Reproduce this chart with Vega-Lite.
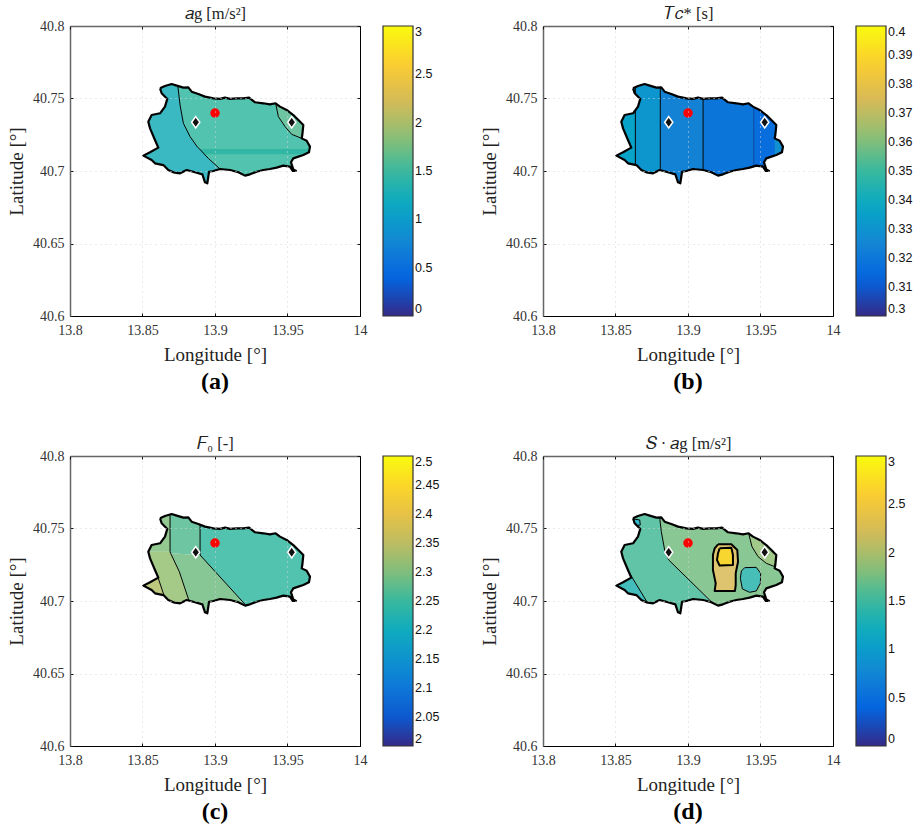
{"$schema":"https://vega.github.io/schema/vega-lite/v6.json","padding":{"left":7,"top":5,"right":0,"bottom":0},"background":"white","columns":2,"bounds":"flush","spacing":{"column":183,"row":140},"resolve":{"scale":{"fill":"independent"},"legend":{"fill":"independent"}},"datasets":{
"geo":[
{"part":"f","i":-5,"lon":13.8,"lat":40.8},{"part":"f","i":-4,"lon":13.8,"lat":40.6},{"part":"f","i":-3,"lon":14,"lat":40.6},{"part":"f","i":-2,"lon":14,"lat":40.8},{"part":"f","i":-1,"lon":13.8,"lat":40.8},
{"part":"o","i":1,"lon":13.8621,"lat":40.757},{"part":"o","i":2,"lon":13.8655,"lat":40.7586},{"part":"o","i":3,"lon":13.8701,"lat":40.76},{"part":"o","i":4,"lon":13.8736,"lat":40.7589},{"part":"o","i":5,"lon":13.8782,"lat":40.7575},{"part":"o","i":6,"lon":13.8816,"lat":40.7577},{"part":"o","i":7,"lon":13.8839,"lat":40.7547},{"part":"o","i":8,"lon":13.8885,"lat":40.7531},{"part":"o","i":9,"lon":13.8931,"lat":40.7513},{"part":"o","i":10,"lon":13.8989,"lat":40.7501},{"part":"o","i":11,"lon":13.9035,"lat":40.7497},{"part":"o","i":12,"lon":13.9069,"lat":40.7506},{"part":"o","i":13,"lon":13.9104,"lat":40.7497},{"part":"o","i":14,"lon":13.9149,"lat":40.7501},{"part":"o","i":15,"lon":13.9195,"lat":40.7501},{"part":"o","i":16,"lon":13.9235,"lat":40.7506},{"part":"o","i":17,"lon":13.9276,"lat":40.7474},{"part":"o","i":18,"lon":13.9333,"lat":40.7467},{"part":"o","i":19,"lon":13.9379,"lat":40.746},{"part":"o","i":20,"lon":13.9418,"lat":40.7467},{"part":"o","i":21,"lon":13.9448,"lat":40.7444},{"part":"o","i":22,"lon":13.9494,"lat":40.7421},{"part":"o","i":23,"lon":13.954,"lat":40.7386},{"part":"o","i":24,"lon":13.9575,"lat":40.7352},{"part":"o","i":25,"lon":13.9609,"lat":40.7317},{"part":"o","i":26,"lon":13.9602,"lat":40.7248},{"part":"o","i":27,"lon":13.9598,"lat":40.7225},{"part":"o","i":28,"lon":13.9632,"lat":40.7209},{"part":"o","i":29,"lon":13.9655,"lat":40.7168},{"part":"o","i":30,"lon":13.9648,"lat":40.7129},{"part":"o","i":31,"lon":13.9609,"lat":40.711},{"part":"o","i":32,"lon":13.9575,"lat":40.7099},{"part":"o","i":33,"lon":13.954,"lat":40.7087},{"part":"o","i":34,"lon":13.9524,"lat":40.706},{"part":"o","i":35,"lon":13.954,"lat":40.7011},{"part":"o","i":36,"lon":13.9559,"lat":40.7},{"part":"o","i":37,"lon":13.9536,"lat":40.7},{"part":"o","i":38,"lon":13.9517,"lat":40.703},{"part":"o","i":39,"lon":13.9471,"lat":40.7037},{"part":"o","i":40,"lon":13.9425,"lat":40.7023},{"part":"o","i":41,"lon":13.9379,"lat":40.7014},{"part":"o","i":42,"lon":13.9333,"lat":40.7007},{"part":"o","i":43,"lon":13.9287,"lat":40.6995},{"part":"o","i":44,"lon":13.9241,"lat":40.6977},{"part":"o","i":45,"lon":13.9207,"lat":40.6968},{"part":"o","i":46,"lon":13.9161,"lat":40.6991},{"part":"o","i":47,"lon":13.9104,"lat":40.7007},{"part":"o","i":48,"lon":13.9035,"lat":40.7014},{"part":"o","i":49,"lon":13.8989,"lat":40.7},{"part":"o","i":50,"lon":13.8959,"lat":40.6995},{"part":"o","i":51,"lon":13.8947,"lat":40.6915},{"part":"o","i":52,"lon":13.8931,"lat":40.6922},{"part":"o","i":53,"lon":13.8913,"lat":40.6977},{"part":"o","i":54,"lon":13.8862,"lat":40.6991},{"part":"o","i":55,"lon":13.8805,"lat":40.7007},{"part":"o","i":56,"lon":13.8759,"lat":40.6984},{"part":"o","i":57,"lon":13.8713,"lat":40.6991},{"part":"o","i":58,"lon":13.8678,"lat":40.7007},{"part":"o","i":59,"lon":13.8644,"lat":40.7041},{"part":"o","i":60,"lon":13.8586,"lat":40.7053},{"part":"o","i":61,"lon":13.8563,"lat":40.7076},{"part":"o","i":62,"lon":13.8506,"lat":40.7106},{"part":"o","i":63,"lon":13.8552,"lat":40.7129},{"part":"o","i":64,"lon":13.8609,"lat":40.7161},{"part":"o","i":65,"lon":13.8586,"lat":40.7214},{"part":"o","i":66,"lon":13.8552,"lat":40.7294},{"part":"o","i":67,"lon":13.854,"lat":40.734},{"part":"o","i":68,"lon":13.8563,"lat":40.7386},{"part":"o","i":69,"lon":13.8621,"lat":40.7398},{"part":"o","i":70,"lon":13.8655,"lat":40.7444},{"part":"o","i":71,"lon":13.8671,"lat":40.7497},{"part":"o","i":72,"lon":13.8632,"lat":40.7536},{"part":"o","i":73,"lon":13.8621,"lat":40.757},
{"part":"f","i":74,"lon":13.8,"lat":40.8}],
"zones":[
{"p":"a","z":"left","value":1.26,"i":1,"lon":13.83,"lat":40.775},{"p":"a","z":"left","value":1.26,"i":2,"lon":13.874,"lat":40.775},{"p":"a","z":"left","value":1.26,"i":3,"lon":13.874,"lat":40.7616},{"p":"a","z":"left","value":1.26,"i":4,"lon":13.8759,"lat":40.7455},{"p":"a","z":"left","value":1.26,"i":5,"lon":13.8782,"lat":40.7329},{"p":"a","z":"left","value":1.26,"i":6,"lon":13.8828,"lat":40.7237},{"p":"a","z":"left","value":1.26,"i":7,"lon":13.8874,"lat":40.7172},{"p":"a","z":"left","value":1.26,"i":8,"lon":13.8954,"lat":40.7087},{"p":"a","z":"left","value":1.26,"i":9,"lon":13.9035,"lat":40.7014},{"p":"a","z":"left","value":1.26,"i":10,"lon":13.908,"lat":40.6961},{"p":"a","z":"left","value":1.26,"i":11,"lon":13.908,"lat":40.68},{"p":"a","z":"left","value":1.26,"i":12,"lon":13.83,"lat":40.68},
{"p":"a","z":"mid","value":1.47,"i":1,"lon":13.874,"lat":40.775},{"p":"a","z":"mid","value":1.47,"i":2,"lon":13.874,"lat":40.7616},{"p":"a","z":"mid","value":1.47,"i":3,"lon":13.8759,"lat":40.7455},{"p":"a","z":"mid","value":1.47,"i":4,"lon":13.8782,"lat":40.7329},{"p":"a","z":"mid","value":1.47,"i":5,"lon":13.8828,"lat":40.7237},{"p":"a","z":"mid","value":1.47,"i":6,"lon":13.8874,"lat":40.7172},{"p":"a","z":"mid","value":1.47,"i":7,"lon":13.8954,"lat":40.7087},{"p":"a","z":"mid","value":1.47,"i":8,"lon":13.9035,"lat":40.7014},{"p":"a","z":"mid","value":1.47,"i":9,"lon":13.908,"lat":40.6961},{"p":"a","z":"mid","value":1.47,"i":10,"lon":13.908,"lat":40.68},{"p":"a","z":"mid","value":1.47,"i":11,"lon":13.98,"lat":40.68},{"p":"a","z":"mid","value":1.47,"i":12,"lon":13.98,"lat":40.7202},{"p":"a","z":"mid","value":1.47,"i":13,"lon":13.9701,"lat":40.7202},{"p":"a","z":"mid","value":1.47,"i":14,"lon":13.9598,"lat":40.7225},{"p":"a","z":"mid","value":1.47,"i":15,"lon":13.9529,"lat":40.7253},{"p":"a","z":"mid","value":1.47,"i":16,"lon":13.9483,"lat":40.7306},{"p":"a","z":"mid","value":1.47,"i":17,"lon":13.9437,"lat":40.7375},{"p":"a","z":"mid","value":1.47,"i":18,"lon":13.9418,"lat":40.7467},{"p":"a","z":"mid","value":1.47,"i":19,"lon":13.9411,"lat":40.7501},{"p":"a","z":"mid","value":1.47,"i":20,"lon":13.9411,"lat":40.775},
{"p":"a","z":"right","value":1.62,"i":1,"lon":13.9411,"lat":40.775},{"p":"a","z":"right","value":1.62,"i":2,"lon":13.9411,"lat":40.7501},{"p":"a","z":"right","value":1.62,"i":3,"lon":13.9418,"lat":40.7467},{"p":"a","z":"right","value":1.62,"i":4,"lon":13.9437,"lat":40.7375},{"p":"a","z":"right","value":1.62,"i":5,"lon":13.9483,"lat":40.7306},{"p":"a","z":"right","value":1.62,"i":6,"lon":13.9529,"lat":40.7253},{"p":"a","z":"right","value":1.62,"i":7,"lon":13.9598,"lat":40.7225},{"p":"a","z":"right","value":1.62,"i":8,"lon":13.9701,"lat":40.7202},{"p":"a","z":"right","value":1.62,"i":9,"lon":13.98,"lat":40.7202},{"p":"a","z":"right","value":1.62,"i":10,"lon":13.98,"lat":40.775},
{"p":"band","z":"band","value":1.45,"i":1,"lon":13.8892,"lat":40.7152},{"p":"band","z":"band","value":1.45,"i":2,"lon":13.977,"lat":40.7152},{"p":"band","z":"band","value":1.45,"i":3,"lon":13.977,"lat":40.7115},{"p":"band","z":"band","value":1.45,"i":4,"lon":13.8929,"lat":40.7115},
{"p":"b","z":"z1","value":0.336,"i":1,"lon":13.83,"lat":40.775},{"p":"b","z":"z1","value":0.336,"i":2,"lon":13.8637,"lat":40.775},{"p":"b","z":"z1","value":0.336,"i":3,"lon":13.8637,"lat":40.68},{"p":"b","z":"z1","value":0.336,"i":4,"lon":13.83,"lat":40.68},
{"p":"b","z":"z2","value":0.331,"i":1,"lon":13.8637,"lat":40.775},{"p":"b","z":"z2","value":0.331,"i":2,"lon":13.8809,"lat":40.775},{"p":"b","z":"z2","value":0.331,"i":3,"lon":13.8809,"lat":40.68},{"p":"b","z":"z2","value":0.331,"i":4,"lon":13.8637,"lat":40.68},
{"p":"b","z":"z3","value":0.324,"i":1,"lon":13.8809,"lat":40.775},{"p":"b","z":"z3","value":0.324,"i":2,"lon":13.9104,"lat":40.775},{"p":"b","z":"z3","value":0.324,"i":3,"lon":13.9104,"lat":40.68},{"p":"b","z":"z3","value":0.324,"i":4,"lon":13.8809,"lat":40.68},
{"p":"b","z":"z4","value":0.319,"i":1,"lon":13.9104,"lat":40.775},{"p":"b","z":"z4","value":0.319,"i":2,"lon":13.9453,"lat":40.775},{"p":"b","z":"z4","value":0.319,"i":3,"lon":13.9453,"lat":40.68},{"p":"b","z":"z4","value":0.319,"i":4,"lon":13.9104,"lat":40.68},
{"p":"b","z":"z5","value":0.316,"i":1,"lon":13.9453,"lat":40.775},{"p":"b","z":"z5","value":0.316,"i":2,"lon":13.9605,"lat":40.775},{"p":"b","z":"z5","value":0.316,"i":3,"lon":13.9605,"lat":40.68},{"p":"b","z":"z5","value":0.316,"i":4,"lon":13.9453,"lat":40.68},
{"p":"b","z":"z6","value":0.329,"i":1,"lon":13.9598,"lat":40.775},{"p":"b","z":"z6","value":0.329,"i":2,"lon":13.98,"lat":40.775},{"p":"b","z":"z6","value":0.329,"i":3,"lon":13.98,"lat":40.68},{"p":"b","z":"z6","value":0.329,"i":4,"lon":13.9598,"lat":40.68},
{"p":"c","z":"z1","value":2.3,"i":1,"lon":13.83,"lat":40.775},{"p":"c","z":"z1","value":2.3,"i":2,"lon":13.869,"lat":40.775},{"p":"c","z":"z1","value":2.3,"i":3,"lon":13.869,"lat":40.734},{"p":"c","z":"z1","value":2.3,"i":4,"lon":13.83,"lat":40.734},
{"p":"c","z":"z2","value":2.27,"i":1,"lon":13.869,"lat":40.775},{"p":"c","z":"z2","value":2.27,"i":2,"lon":13.8897,"lat":40.775},{"p":"c","z":"z2","value":2.27,"i":3,"lon":13.8897,"lat":40.7317},{"p":"c","z":"z2","value":2.27,"i":4,"lon":13.8694,"lat":40.7329},{"p":"c","z":"z2","value":2.27,"i":5,"lon":13.869,"lat":40.734},
{"p":"c","z":"z3","value":2.29,"i":1,"lon":13.8694,"lat":40.7329},{"p":"c","z":"z3","value":2.29,"i":2,"lon":13.8897,"lat":40.7317},{"p":"c","z":"z3","value":2.29,"i":3,"lon":13.9207,"lat":40.6977},{"p":"c","z":"z3","value":2.29,"i":4,"lon":13.9241,"lat":40.6938},{"p":"c","z":"z3","value":2.29,"i":5,"lon":13.9241,"lat":40.68},{"p":"c","z":"z3","value":2.29,"i":6,"lon":13.8839,"lat":40.68},{"p":"c","z":"z3","value":2.29,"i":7,"lon":13.8839,"lat":40.6949},{"p":"c","z":"z3","value":2.29,"i":8,"lon":13.8823,"lat":40.6995},{"p":"c","z":"z3","value":2.29,"i":9,"lon":13.8754,"lat":40.7202},
{"p":"c","z":"z4","value":2.315,"i":1,"lon":13.83,"lat":40.734},{"p":"c","z":"z4","value":2.315,"i":2,"lon":13.869,"lat":40.734},{"p":"c","z":"z4","value":2.315,"i":3,"lon":13.8694,"lat":40.7329},{"p":"c","z":"z4","value":2.315,"i":4,"lon":13.8754,"lat":40.7202},{"p":"c","z":"z4","value":2.315,"i":5,"lon":13.8823,"lat":40.6995},{"p":"c","z":"z4","value":2.315,"i":6,"lon":13.8839,"lat":40.6949},{"p":"c","z":"z4","value":2.315,"i":7,"lon":13.8839,"lat":40.68},{"p":"c","z":"z4","value":2.315,"i":8,"lon":13.8667,"lat":40.68},{"p":"c","z":"z4","value":2.315,"i":9,"lon":13.8667,"lat":40.6972},{"p":"c","z":"z4","value":2.315,"i":10,"lon":13.8655,"lat":40.7019},{"p":"c","z":"z4","value":2.315,"i":11,"lon":13.8609,"lat":40.7156},{"p":"c","z":"z4","value":2.315,"i":12,"lon":13.8598,"lat":40.7191},{"p":"c","z":"z4","value":2.315,"i":13,"lon":13.83,"lat":40.7191},
{"p":"c","z":"z5","value":2.34,"i":1,"lon":13.83,"lat":40.7191},{"p":"c","z":"z5","value":2.34,"i":2,"lon":13.8598,"lat":40.7191},{"p":"c","z":"z5","value":2.34,"i":3,"lon":13.8609,"lat":40.7156},{"p":"c","z":"z5","value":2.34,"i":4,"lon":13.8655,"lat":40.7019},{"p":"c","z":"z5","value":2.34,"i":5,"lon":13.8667,"lat":40.6972},{"p":"c","z":"z5","value":2.34,"i":6,"lon":13.8667,"lat":40.68},{"p":"c","z":"z5","value":2.34,"i":7,"lon":13.83,"lat":40.68},
{"p":"c","z":"z6","value":2.245,"i":1,"lon":13.8897,"lat":40.775},{"p":"c","z":"z6","value":2.245,"i":2,"lon":13.98,"lat":40.775},{"p":"c","z":"z6","value":2.245,"i":3,"lon":13.98,"lat":40.68},{"p":"c","z":"z6","value":2.245,"i":4,"lon":13.9241,"lat":40.68},{"p":"c","z":"z6","value":2.245,"i":5,"lon":13.9241,"lat":40.6938},{"p":"c","z":"z6","value":2.245,"i":6,"lon":13.9207,"lat":40.6977},{"p":"c","z":"z6","value":2.245,"i":7,"lon":13.8897,"lat":40.7317},
{"p":"d","z":"left","value":1.56,"i":1,"lon":13.83,"lat":40.775},{"p":"d","z":"left","value":1.56,"i":2,"lon":13.88,"lat":40.775},{"p":"d","z":"left","value":1.56,"i":3,"lon":13.88,"lat":40.7616},{"p":"d","z":"left","value":1.56,"i":4,"lon":13.8816,"lat":40.7478},{"p":"d","z":"left","value":1.56,"i":5,"lon":13.8839,"lat":40.7352},{"p":"d","z":"left","value":1.56,"i":6,"lon":13.8867,"lat":40.7283},{"p":"d","z":"left","value":1.56,"i":7,"lon":13.9172,"lat":40.6984},{"p":"d","z":"left","value":1.56,"i":8,"lon":13.9218,"lat":40.6938},{"p":"d","z":"left","value":1.56,"i":9,"lon":13.9218,"lat":40.68},{"p":"d","z":"left","value":1.56,"i":10,"lon":13.8747,"lat":40.68},{"p":"d","z":"left","value":1.56,"i":11,"lon":13.8747,"lat":40.6943},{"p":"d","z":"left","value":1.56,"i":12,"lon":13.872,"lat":40.6989},{"p":"d","z":"left","value":1.56,"i":13,"lon":13.8621,"lat":40.7152},{"p":"d","z":"left","value":1.56,"i":14,"lon":13.8598,"lat":40.7191},{"p":"d","z":"left","value":1.56,"i":15,"lon":13.83,"lat":40.7191},
{"p":"d","z":"tip","value":1.33,"i":1,"lon":13.83,"lat":40.7191},{"p":"d","z":"tip","value":1.33,"i":2,"lon":13.8598,"lat":40.7191},{"p":"d","z":"tip","value":1.33,"i":3,"lon":13.8621,"lat":40.7152},{"p":"d","z":"tip","value":1.33,"i":4,"lon":13.872,"lat":40.6989},{"p":"d","z":"tip","value":1.33,"i":5,"lon":13.8747,"lat":40.6943},{"p":"d","z":"tip","value":1.33,"i":6,"lon":13.8747,"lat":40.68},{"p":"d","z":"tip","value":1.33,"i":7,"lon":13.83,"lat":40.68},
{"p":"d","z":"mid","value":1.75,"i":1,"lon":13.88,"lat":40.775},{"p":"d","z":"mid","value":1.75,"i":2,"lon":13.9411,"lat":40.775},{"p":"d","z":"mid","value":1.75,"i":3,"lon":13.9411,"lat":40.7501},{"p":"d","z":"mid","value":1.75,"i":4,"lon":13.9418,"lat":40.7467},{"p":"d","z":"mid","value":1.75,"i":5,"lon":13.9441,"lat":40.7375},{"p":"d","z":"mid","value":1.75,"i":6,"lon":13.9483,"lat":40.7306},{"p":"d","z":"mid","value":1.75,"i":7,"lon":13.954,"lat":40.726},{"p":"d","z":"mid","value":1.75,"i":8,"lon":13.9598,"lat":40.7237},{"p":"d","z":"mid","value":1.75,"i":9,"lon":13.9701,"lat":40.7214},{"p":"d","z":"mid","value":1.75,"i":10,"lon":13.98,"lat":40.7214},{"p":"d","z":"mid","value":1.75,"i":11,"lon":13.98,"lat":40.68},{"p":"d","z":"mid","value":1.75,"i":12,"lon":13.9218,"lat":40.68},{"p":"d","z":"mid","value":1.75,"i":13,"lon":13.9218,"lat":40.6938},{"p":"d","z":"mid","value":1.75,"i":14,"lon":13.9172,"lat":40.6984},{"p":"d","z":"mid","value":1.75,"i":15,"lon":13.8867,"lat":40.7283},{"p":"d","z":"mid","value":1.75,"i":16,"lon":13.8839,"lat":40.7352},{"p":"d","z":"mid","value":1.75,"i":17,"lon":13.8816,"lat":40.7478},{"p":"d","z":"mid","value":1.75,"i":18,"lon":13.88,"lat":40.7616},
{"p":"d","z":"right","value":1.87,"i":1,"lon":13.9411,"lat":40.775},{"p":"d","z":"right","value":1.87,"i":2,"lon":13.9411,"lat":40.7501},{"p":"d","z":"right","value":1.87,"i":3,"lon":13.9418,"lat":40.7467},{"p":"d","z":"right","value":1.87,"i":4,"lon":13.9441,"lat":40.7375},{"p":"d","z":"right","value":1.87,"i":5,"lon":13.9483,"lat":40.7306},{"p":"d","z":"right","value":1.87,"i":6,"lon":13.954,"lat":40.726},{"p":"d","z":"right","value":1.87,"i":7,"lon":13.9598,"lat":40.7237},{"p":"d","z":"right","value":1.87,"i":8,"lon":13.9701,"lat":40.7214},{"p":"d","z":"right","value":1.87,"i":9,"lon":13.98,"lat":40.7214},{"p":"d","z":"right","value":1.87,"i":10,"lon":13.98,"lat":40.775}
],
"lines":[
{"p":"a","id":"l1","i":1,"lon":13.874,"lat":40.7616},{"p":"a","id":"l1","i":2,"lon":13.8759,"lat":40.7455},{"p":"a","id":"l1","i":3,"lon":13.8782,"lat":40.7329},{"p":"a","id":"l1","i":4,"lon":13.8828,"lat":40.7237},{"p":"a","id":"l1","i":5,"lon":13.8874,"lat":40.7172},{"p":"a","id":"l1","i":6,"lon":13.8954,"lat":40.7087},{"p":"a","id":"l1","i":7,"lon":13.9035,"lat":40.7014},{"p":"a","id":"l1","i":8,"lon":13.908,"lat":40.6961},
{"p":"a","id":"l2","i":1,"lon":13.9411,"lat":40.7501},{"p":"a","id":"l2","i":2,"lon":13.9418,"lat":40.7467},{"p":"a","id":"l2","i":3,"lon":13.9437,"lat":40.7375},{"p":"a","id":"l2","i":4,"lon":13.9483,"lat":40.7306},{"p":"a","id":"l2","i":5,"lon":13.9529,"lat":40.7253},{"p":"a","id":"l2","i":6,"lon":13.9598,"lat":40.7225},{"p":"a","id":"l2","i":7,"lon":13.9701,"lat":40.7202},
{"p":"b","id":"l1","i":1,"lon":13.8637,"lat":40.775},{"p":"b","id":"l1","i":2,"lon":13.8637,"lat":40.68},
{"p":"b","id":"l2","i":1,"lon":13.8809,"lat":40.775},{"p":"b","id":"l2","i":2,"lon":13.8809,"lat":40.68},
{"p":"b","id":"l3","i":1,"lon":13.9104,"lat":40.775},{"p":"b","id":"l3","i":2,"lon":13.9104,"lat":40.68},
{"p":"b4","id":"l4","i":1,"lon":13.9453,"lat":40.775},{"p":"b4","id":"l4","i":2,"lon":13.9453,"lat":40.68},
{"p":"c","id":"a","i":1,"lon":13.869,"lat":40.7616},{"p":"c","id":"a","i":2,"lon":13.869,"lat":40.734},{"p":"c","id":"a","i":3,"lon":13.8694,"lat":40.7329},{"p":"c","id":"a","i":4,"lon":13.8754,"lat":40.7202},{"p":"c","id":"a","i":5,"lon":13.8823,"lat":40.6995},{"p":"c","id":"a","i":6,"lon":13.8839,"lat":40.6949},
{"p":"c","id":"b","i":1,"lon":13.8897,"lat":40.757},{"p":"c","id":"b","i":2,"lon":13.8897,"lat":40.7317},{"p":"c","id":"b","i":3,"lon":13.9207,"lat":40.6977},{"p":"c","id":"b","i":4,"lon":13.9241,"lat":40.6938},
{"p":"c","id":"c","i":1,"lon":13.8598,"lat":40.7191},{"p":"c","id":"c","i":2,"lon":13.8609,"lat":40.7156},{"p":"c","id":"c","i":3,"lon":13.8655,"lat":40.7019},{"p":"c","id":"c","i":4,"lon":13.8667,"lat":40.6972},
{"p":"d","id":"l1","i":1,"lon":13.88,"lat":40.7616},{"p":"d","id":"l1","i":2,"lon":13.8816,"lat":40.7478},{"p":"d","id":"l1","i":3,"lon":13.8839,"lat":40.7352},{"p":"d","id":"l1","i":4,"lon":13.8867,"lat":40.7283},{"p":"d","id":"l1","i":5,"lon":13.9172,"lat":40.6984},{"p":"d","id":"l1","i":6,"lon":13.9218,"lat":40.6938},
{"p":"d","id":"l2","i":1,"lon":13.8598,"lat":40.7191},{"p":"d","id":"l2","i":2,"lon":13.8621,"lat":40.7152},{"p":"d","id":"l2","i":3,"lon":13.872,"lat":40.6989},{"p":"d","id":"l2","i":4,"lon":13.8747,"lat":40.6943},
{"p":"d","id":"l3","i":1,"lon":13.9411,"lat":40.7501},{"p":"d","id":"l3","i":2,"lon":13.9418,"lat":40.7467},{"p":"d","id":"l3","i":3,"lon":13.9441,"lat":40.7375},{"p":"d","id":"l3","i":4,"lon":13.9483,"lat":40.7306},{"p":"d","id":"l3","i":5,"lon":13.954,"lat":40.726},{"p":"d","id":"l3","i":6,"lon":13.9598,"lat":40.7237},{"p":"d","id":"l3","i":7,"lon":13.9701,"lat":40.7214}
],
"blobs":[
{"id":"tan","k":"thick","value":2.25,"i":1,"lon":13.9207,"lat":40.7391},{"id":"tan","k":"thick","value":2.25,"i":2,"lon":13.9299,"lat":40.7391},{"id":"tan","k":"thick","value":2.25,"i":3,"lon":13.934,"lat":40.7352},{"id":"tan","k":"thick","value":2.25,"i":4,"lon":13.9345,"lat":40.7271},{"id":"tan","k":"thick","value":2.25,"i":5,"lon":13.9329,"lat":40.7191},{"id":"tan","k":"thick","value":2.25,"i":6,"lon":13.9329,"lat":40.711},{"id":"tan","k":"thick","value":2.25,"i":7,"lon":13.9324,"lat":40.7069},{"id":"tan","k":"thick","value":2.25,"i":8,"lon":13.9184,"lat":40.7069},{"id":"tan","k":"thick","value":2.25,"i":9,"lon":13.9191,"lat":40.7122},{"id":"tan","k":"thick","value":2.25,"i":10,"lon":13.9172,"lat":40.7214},{"id":"tan","k":"thick","value":2.25,"i":11,"lon":13.9172,"lat":40.7317},{"id":"tan","k":"thick","value":2.25,"i":12,"lon":13.9184,"lat":40.7363},{"id":"tan","k":"thick","value":2.25,"i":13,"lon":13.9207,"lat":40.7391},
{"id":"yellow","k":"thick","value":2.72,"i":1,"lon":13.9218,"lat":40.7363},{"id":"yellow","k":"thick","value":2.72,"i":2,"lon":13.9299,"lat":40.7368},{"id":"yellow","k":"thick","value":2.72,"i":3,"lon":13.931,"lat":40.7317},{"id":"yellow","k":"thick","value":2.72,"i":4,"lon":13.931,"lat":40.7248},{"id":"yellow","k":"thick","value":2.72,"i":5,"lon":13.9218,"lat":40.7244},{"id":"yellow","k":"thick","value":2.72,"i":6,"lon":13.92,"lat":40.7283},{"id":"yellow","k":"thick","value":2.72,"i":7,"lon":13.9207,"lat":40.7329},{"id":"yellow","k":"thick","value":2.72,"i":8,"lon":13.9218,"lat":40.7363},
{"id":"teal","k":"thin","value":1.38,"i":1,"lon":13.9391,"lat":40.723},{"id":"teal","k":"thin","value":1.38,"i":2,"lon":13.9471,"lat":40.7232},{"id":"teal","k":"thin","value":1.38,"i":3,"lon":13.9501,"lat":40.7191},{"id":"teal","k":"thin","value":1.38,"i":4,"lon":13.9499,"lat":40.7122},{"id":"teal","k":"thin","value":1.38,"i":5,"lon":13.9471,"lat":40.7069},{"id":"teal","k":"thin","value":1.38,"i":6,"lon":13.9425,"lat":40.706},{"id":"teal","k":"thin","value":1.38,"i":7,"lon":13.9375,"lat":40.7083},{"id":"teal","k":"thin","value":1.38,"i":8,"lon":13.9361,"lat":40.7156},{"id":"teal","k":"thin","value":1.38,"i":9,"lon":13.9368,"lat":40.7207},{"id":"teal","k":"thin","value":1.38,"i":10,"lon":13.9391,"lat":40.723},
{"id":"small","k":"thin","value":1.2,"i":1,"lon":13.8625,"lat":40.7565},{"id":"small","k":"thin","value":1.2,"i":2,"lon":13.8667,"lat":40.7559},{"id":"small","k":"thin","value":1.2,"i":3,"lon":13.8671,"lat":40.7524},{"id":"small","k":"thin","value":1.2,"i":4,"lon":13.8644,"lat":40.752},{"id":"small","k":"thin","value":1.2,"i":5,"lon":13.8625,"lat":40.7547},{"id":"small","k":"thin","value":1.2,"i":6,"lon":13.8625,"lat":40.7565}
],
"sites":[{"kind":"station","lon":13.8867,"lat":40.7336},{"kind":"station","lon":13.9529,"lat":40.7336},{"kind":"epicentre","lon":13.9,"lat":40.74}]
},
"config":{"view":{"stroke":null},"font":"Liberation Serif",
"axis":{"labelFont":"Liberation Serif","titleFont":"Liberation Serif","labelFontSize":14,"titleFontSize":19,"labelColor":"#333333","titleColor":"#222222","titleFontWeight":"normal","tickColor":"#111111","tickSize":-3,"labelFlush":false,"gridColor":"#d4d4d4","gridDash":[1,4],"gridWidth":1,"format":".6~g"},
"axisX":{"labelPadding":10,"titlePadding":8},"axisY":{"labelPadding":9,"titlePadding":6},
"legend":{"labelFont":"Liberation Sans","labelFontSize":12.5,"labelColor":"#111111","gradientStrokeColor":"#333333","gradientStrokeWidth":1.2,"gradientLength":290,"gradientThickness":30,"offset":22,"labelOffset":5,"labelOverlap":false},
"title":{"font":"Liberation Serif","fontWeight":"bold","fontSize":24,"color":"#000000","offset":6,"anchor":"middle"},
"line":{"strokeJoin":"round"}},
"concat":[
{"width":290,"height":290,"title":{"text":"(a)","orient":"bottom"},"encoding":{"x":{"field":"lon","type":"quantitative","scale":{"domain":[13.8,14]},"axis":null},"y":{"field":"lat","type":"quantitative","scale":{"domain":[40.6,40.8]},"axis":null}},"resolve":{"axis":{"x":"independent","y":"independent"}},"layer":[
{"data":{"name":"zones"},"transform":[{"filter":"datum.p=='a'"}],"mark":{"type":"line","strokeWidth":0,"fillOpacity":0.85},"encoding":{"x":{"field":"lon","type":"quantitative","scale":{"domain":[13.8,14]},"axis":{"title":"Longitude [°]","grid":true,"zindex":1,"values":[13.8,13.85,13.9,13.95,14],"domainColor":"#000000"}},"y":{"field":"lat","type":"quantitative","scale":{"domain":[40.6,40.8]},"axis":{"title":"Latitude [°]","grid":true,"zindex":1,"values":[40.6,40.65,40.7,40.75,40.8],"domainColor":"#666666","domainWidth":1.5}},"detail":{"field":"z"},"order":{"field":"i","type":"quantitative"},"fill":{"field":"value","type":"quantitative","scale":{"domain":[0,3],"range":["#352a87","#0363e1","#1485d4","#06a7c6","#38b99e","#92bf73","#d9ba56","#fcce2e","#f9fb0e"],"interpolate":"rgb"},"legend":{"type":"gradient","title":null,"format":".6~g","values":[0,0.5,1,1.5,2,2.5,3],"encoding":{"labels":{"baseline":"middle"}}}}}},
{"data":{"name":"zones"},"transform":[{"filter":"datum.p=='band'"}],"mark":{"type":"line","strokeWidth":0,"fillOpacity":1},"encoding":{"detail":{"field":"z"},"order":{"field":"i","type":"quantitative"},"fill":{"field":"value","type":"quantitative"}}},
{"data":{"name":"lines"},"transform":[{"filter":"datum.p=='a'"}],"mark":{"type":"line","stroke":"#000000","strokeWidth":1},"encoding":{"detail":{"field":"id"},"order":{"field":"i","type":"quantitative"}}},
{"data":{"name":"geo"},"mark":{"type":"line","fill":"#ffffff","stroke":"#ffffff","strokeWidth":0.5},"encoding":{"order":{"field":"i","type":"quantitative"}}},
{"data":{"name":"geo"},"transform":[{"filter":"datum.part=='o'"}],"mark":{"type":"line","stroke":"#000000","strokeWidth":2.2},"encoding":{"order":{"field":"i","type":"quantitative"}}},
{"data":{"name":"sites"},"transform":[{"filter":"datum.kind=='station'"}],"mark":{"type":"point","shape":"M0,-1L0.72,0L0,1L-0.72,0Z","filled":true,"fill":"#111111","stroke":"#ffffff","strokeWidth":1.5,"opacity":1,"size":130},"encoding":{"x":{"field":"lon","type":"quantitative","scale":{"domain":[13.8,14]},"axis":{"orient":"top","labels":false,"title":"𝑎g [m/s²]","titleFontSize":16.5,"titlePadding":4,"domainColor":"#666666","domainWidth":1.5,"grid":false,"zindex":2,"values":[13.8,13.85,13.9,13.95,14]}},"y":{"field":"lat","type":"quantitative","scale":{"domain":[40.6,40.8]},"axis":{"orient":"right","labels":false,"title":null,"domainColor":"#000000","grid":false,"zindex":2,"values":[40.6,40.65,40.7,40.75,40.8]}}}},
{"data":{"name":"sites"},"transform":[{"filter":"datum.kind=='epicentre'"}],"mark":{"type":"point","shape":"circle","filled":true,"fill":"#ff0000","opacity":1,"size":90}}
]},
{"width":290,"height":290,"title":{"text":"(b)","orient":"bottom"},"encoding":{"x":{"field":"lon","type":"quantitative","scale":{"domain":[13.8,14]},"axis":null},"y":{"field":"lat","type":"quantitative","scale":{"domain":[40.6,40.8]},"axis":null}},"resolve":{"axis":{"x":"independent","y":"independent"}},"layer":[
{"data":{"name":"zones"},"transform":[{"filter":"datum.p=='b'"}],"mark":{"type":"line","strokeWidth":0,"fillOpacity":1},"encoding":{"x":{"field":"lon","type":"quantitative","scale":{"domain":[13.8,14]},"axis":{"title":"Longitude [°]","grid":true,"zindex":1,"values":[13.8,13.85,13.9,13.95,14],"domainColor":"#000000"}},"y":{"field":"lat","type":"quantitative","scale":{"domain":[40.6,40.8]},"axis":{"title":"Latitude [°]","grid":true,"zindex":1,"values":[40.6,40.65,40.7,40.75,40.8],"domainColor":"#666666","domainWidth":1.5}},"detail":{"field":"z"},"order":{"field":"i","type":"quantitative"},"fill":{"field":"value","type":"quantitative","scale":{"domain":[0.3,0.4],"range":["#352a87","#0363e1","#1485d4","#06a7c6","#38b99e","#92bf73","#d9ba56","#fcce2e","#f9fb0e"],"interpolate":"rgb"},"legend":{"type":"gradient","title":null,"format":".6~g","values":[0.3,0.31,0.32,0.33,0.34,0.35,0.36,0.37,0.38,0.39,0.4],"encoding":{"labels":{"baseline":"middle"}}}}}},
{"data":{"name":"lines"},"transform":[{"filter":"datum.p=='b'"}],"mark":{"type":"line","stroke":"#000000","strokeWidth":1},"encoding":{"detail":{"field":"id"},"order":{"field":"i","type":"quantitative"}}},
{"data":{"name":"lines"},"transform":[{"filter":"datum.p=='b4'"}],"mark":{"type":"line","stroke":"#0b4fa6","strokeWidth":1.2},"encoding":{"detail":{"field":"id"},"order":{"field":"i","type":"quantitative"}}},
{"data":{"name":"geo"},"mark":{"type":"line","fill":"#ffffff","stroke":"#ffffff","strokeWidth":0.5},"encoding":{"order":{"field":"i","type":"quantitative"}}},
{"data":{"name":"geo"},"transform":[{"filter":"datum.part=='o'"}],"mark":{"type":"line","stroke":"#000000","strokeWidth":2.2},"encoding":{"order":{"field":"i","type":"quantitative"}}},
{"data":{"name":"sites"},"transform":[{"filter":"datum.kind=='station'"}],"mark":{"type":"point","shape":"M0,-1L0.72,0L0,1L-0.72,0Z","filled":true,"fill":"#111111","stroke":"#ffffff","strokeWidth":1.5,"opacity":1,"size":130},"encoding":{"x":{"field":"lon","type":"quantitative","scale":{"domain":[13.8,14]},"axis":{"orient":"top","labels":false,"title":"𝑇𝑐* [s]","titleFontSize":16.5,"titlePadding":4,"domainColor":"#666666","domainWidth":1.5,"grid":false,"zindex":2,"values":[13.8,13.85,13.9,13.95,14]}},"y":{"field":"lat","type":"quantitative","scale":{"domain":[40.6,40.8]},"axis":{"orient":"right","labels":false,"title":null,"domainColor":"#000000","grid":false,"zindex":2,"values":[40.6,40.65,40.7,40.75,40.8]}}}},
{"data":{"name":"sites"},"transform":[{"filter":"datum.kind=='epicentre'"}],"mark":{"type":"point","shape":"circle","filled":true,"fill":"#ff0000","opacity":1,"size":90}}
]},
{"width":290,"height":290,"title":{"text":"(c)","orient":"bottom"},"encoding":{"x":{"field":"lon","type":"quantitative","scale":{"domain":[13.8,14]},"axis":null},"y":{"field":"lat","type":"quantitative","scale":{"domain":[40.6,40.8]},"axis":null}},"resolve":{"axis":{"x":"independent","y":"independent"}},"layer":[
{"data":{"name":"zones"},"transform":[{"filter":"datum.p=='c'"}],"mark":{"type":"line","strokeWidth":0,"fillOpacity":0.85},"encoding":{"x":{"field":"lon","type":"quantitative","scale":{"domain":[13.8,14]},"axis":{"title":"Longitude [°]","grid":true,"zindex":1,"values":[13.8,13.85,13.9,13.95,14],"domainColor":"#000000"}},"y":{"field":"lat","type":"quantitative","scale":{"domain":[40.6,40.8]},"axis":{"title":"Latitude [°]","grid":true,"zindex":1,"values":[40.6,40.65,40.7,40.75,40.8],"domainColor":"#666666","domainWidth":1.5}},"detail":{"field":"z"},"order":{"field":"i","type":"quantitative"},"fill":{"field":"value","type":"quantitative","scale":{"domain":[2,2.5],"range":["#352a87","#0363e1","#1485d4","#06a7c6","#38b99e","#92bf73","#d9ba56","#fcce2e","#f9fb0e"],"interpolate":"rgb"},"legend":{"type":"gradient","title":null,"format":".6~g","values":[2,2.05,2.1,2.15,2.2,2.25,2.3,2.35,2.4,2.45,2.5],"encoding":{"labels":{"baseline":"middle"}}}}}},
{"data":{"name":"lines"},"transform":[{"filter":"datum.p=='c'"}],"mark":{"type":"line","stroke":"#000000","strokeWidth":1},"encoding":{"detail":{"field":"id"},"order":{"field":"i","type":"quantitative"}}},
{"data":{"name":"geo"},"mark":{"type":"line","fill":"#ffffff","stroke":"#ffffff","strokeWidth":0.5},"encoding":{"order":{"field":"i","type":"quantitative"}}},
{"data":{"name":"geo"},"transform":[{"filter":"datum.part=='o'"}],"mark":{"type":"line","stroke":"#000000","strokeWidth":2.2},"encoding":{"order":{"field":"i","type":"quantitative"}}},
{"data":{"name":"sites"},"transform":[{"filter":"datum.kind=='station'"}],"mark":{"type":"point","shape":"M0,-1L0.72,0L0,1L-0.72,0Z","filled":true,"fill":"#111111","stroke":"#ffffff","strokeWidth":1.5,"opacity":1,"size":130},"encoding":{"x":{"field":"lon","type":"quantitative","scale":{"domain":[13.8,14]},"axis":{"orient":"top","labels":false,"title":"𝐹₀ [-]","titleFontSize":16.5,"titlePadding":4,"domainColor":"#666666","domainWidth":1.5,"grid":false,"zindex":2,"values":[13.8,13.85,13.9,13.95,14]}},"y":{"field":"lat","type":"quantitative","scale":{"domain":[40.6,40.8]},"axis":{"orient":"right","labels":false,"title":null,"domainColor":"#000000","grid":false,"zindex":2,"values":[40.6,40.65,40.7,40.75,40.8]}}}},
{"data":{"name":"sites"},"transform":[{"filter":"datum.kind=='epicentre'"}],"mark":{"type":"point","shape":"circle","filled":true,"fill":"#ff0000","opacity":1,"size":90}}
]},
{"width":290,"height":290,"title":{"text":"(d)","orient":"bottom"},"encoding":{"x":{"field":"lon","type":"quantitative","scale":{"domain":[13.8,14]},"axis":null},"y":{"field":"lat","type":"quantitative","scale":{"domain":[40.6,40.8]},"axis":null}},"resolve":{"axis":{"x":"independent","y":"independent"}},"layer":[
{"data":{"name":"zones"},"transform":[{"filter":"datum.p=='d'"}],"mark":{"type":"line","strokeWidth":0,"fillOpacity":0.85},"encoding":{"x":{"field":"lon","type":"quantitative","scale":{"domain":[13.8,14]},"axis":{"title":"Longitude [°]","grid":true,"zindex":1,"values":[13.8,13.85,13.9,13.95,14],"domainColor":"#000000"}},"y":{"field":"lat","type":"quantitative","scale":{"domain":[40.6,40.8]},"axis":{"title":"Latitude [°]","grid":true,"zindex":1,"values":[40.6,40.65,40.7,40.75,40.8],"domainColor":"#666666","domainWidth":1.5}},"detail":{"field":"z"},"order":{"field":"i","type":"quantitative"},"fill":{"field":"value","type":"quantitative","scale":{"domain":[0,3],"range":["#352a87","#0363e1","#1485d4","#06a7c6","#38b99e","#92bf73","#d9ba56","#fcce2e","#f9fb0e"],"interpolate":"rgb"},"legend":{"type":"gradient","title":null,"format":".6~g","values":[0,0.5,1,1.5,2,2.5,3],"encoding":{"labels":{"baseline":"middle"}}}}}},
{"data":{"name":"lines"},"transform":[{"filter":"datum.p=='d'"}],"mark":{"type":"line","stroke":"#000000","strokeWidth":1},"encoding":{"detail":{"field":"id"},"order":{"field":"i","type":"quantitative"}}},
{"data":{"name":"geo"},"mark":{"type":"line","fill":"#ffffff","stroke":"#ffffff","strokeWidth":0.5},"encoding":{"order":{"field":"i","type":"quantitative"}}},
{"data":{"name":"blobs"},"mark":{"type":"line","fill":"#ffffff","strokeWidth":0},"encoding":{"detail":{"field":"id"},"order":{"field":"i","type":"quantitative"}}},
{"data":{"name":"blobs"},"transform":[{"filter":"datum.k=='thin'"}],"mark":{"type":"line","stroke":"#000000","strokeWidth":1,"fillOpacity":0.85},"encoding":{"detail":{"field":"id"},"order":{"field":"i","type":"quantitative"},"fill":{"field":"value","type":"quantitative"}}},
{"data":{"name":"blobs"},"transform":[{"filter":"datum.k=='thick'"}],"mark":{"type":"line","stroke":"#000000","strokeWidth":2,"fillOpacity":0.85},"encoding":{"detail":{"field":"id"},"order":{"field":"i","type":"quantitative"},"fill":{"field":"value","type":"quantitative"}}},
{"data":{"name":"geo"},"transform":[{"filter":"datum.part=='o'"}],"mark":{"type":"line","stroke":"#000000","strokeWidth":2.2},"encoding":{"order":{"field":"i","type":"quantitative"}}},
{"data":{"name":"sites"},"transform":[{"filter":"datum.kind=='station'"}],"mark":{"type":"point","shape":"M0,-1L0.72,0L0,1L-0.72,0Z","filled":true,"fill":"#111111","stroke":"#ffffff","strokeWidth":1.5,"opacity":1,"size":130},"encoding":{"x":{"field":"lon","type":"quantitative","scale":{"domain":[13.8,14]},"axis":{"orient":"top","labels":false,"title":"𝑆 · 𝑎g [m/s²]","titleFontSize":16.5,"titlePadding":4,"domainColor":"#666666","domainWidth":1.5,"grid":false,"zindex":2,"values":[13.8,13.85,13.9,13.95,14]}},"y":{"field":"lat","type":"quantitative","scale":{"domain":[40.6,40.8]},"axis":{"orient":"right","labels":false,"title":null,"domainColor":"#000000","grid":false,"zindex":2,"values":[40.6,40.65,40.7,40.75,40.8]}}}},
{"data":{"name":"sites"},"transform":[{"filter":"datum.kind=='epicentre'"}],"mark":{"type":"point","shape":"circle","filled":true,"fill":"#ff0000","opacity":1,"size":90}}
]}
]}
